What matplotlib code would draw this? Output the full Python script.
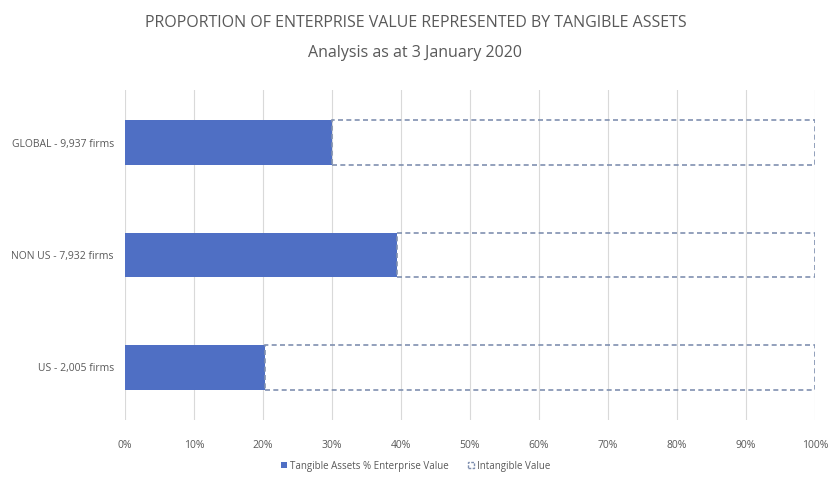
import matplotlib
matplotlib.use("Agg")
import matplotlib.pyplot as plt
from matplotlib.patches import Patch
from matplotlib.ticker import PercentFormatter

categories = ["US - 2,005 firms", "NON US - 7,932 firms", "GLOBAL - 9,937 firms"]
tangible = [20.3, 39.4, 30.0]
intangible = [79.7, 60.6, 70.0]
xticks = [0, 10, 20, 30, 40, 50, 60, 70, 80, 90, 100]

plt.rcParams['font.family'] = ['Open Sans', 'DejaVu Sans']
gray = '#595959'

fig = plt.figure(figsize=(8.31, 4.88), dpi=100)
ax = fig.add_axes([0.1504, 0.139, 0.8303, 0.677])

y = list(range(len(categories)))
ax.barh(y, tangible, height=0.4, color='#4f6fc4', zorder=3, label='Tangible Assets % Enterprise Value')
ax.barh(y, intangible, left=tangible, height=0.4, facecolor='none', edgecolor='#8090b0',
        linestyle=(0, (3, 2)), linewidth=1.2, zorder=3, label='Intangible Value')

ax.set_xlim(0, 100)
ax.set_ylim(-0.47, 2.47)
ax.set_xticks(xticks)
ax.xaxis.set_major_formatter(PercentFormatter(decimals=0))
ax.set_yticks(y)
ax.set_yticklabels(categories)
ax.grid(axis='x', color='#d9d9d9', linewidth=0.8, zorder=0)
for s in ax.spines.values():
    s.set_visible(False)
ax.tick_params(axis='both', length=0, colors=gray, labelsize=7.5)
ax.tick_params(axis='x', pad=14)
ax.tick_params(axis='y', pad=8)

fig.text(0.5, 0.952, "PROPORTION OF ENTERPRISE VALUE REPRESENTED BY TANGIBLE ASSETS",
         ha='center', va='center', fontsize=11.5, color=gray)
fig.text(0.5, 0.892, "Analysis as at 3 January 2020", ha='center', va='center', fontsize=11.5, color=gray)

handles = [Patch(facecolor='#4f6fc4', label='Tangible Assets % Enterprise Value'),
           Patch(facecolor='none', edgecolor='#8090b0', linestyle=(0, (2, 1)), label='Intangible Value')]
fig.legend(handles=handles, loc='center', bbox_to_anchor=(0.5, 0.045), ncol=2, frameon=False,
           fontsize=7, labelcolor=gray, handlelength=0.6, handleheight=0.6, handletextpad=0.3,
           columnspacing=2.0)

fig.savefig("out.png", dpi=100)
